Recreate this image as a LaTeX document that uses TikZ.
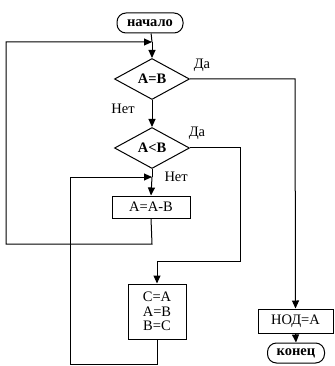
\documentclass[tikz,border=0pt]{standalone}
\usepackage{fontspec}
\setmainfont{Liberation Serif}
\usetikzlibrary{shapes.geometric,arrows.meta}
\begin{document}
\begin{tikzpicture}[x=1pt,y=-1pt,line width=1pt,
  every node/.style={font=\fontsize{14.5}{15}\selectfont},
  term/.style={draw,rectangle,rounded corners=9pt,minimum width=#1,minimum height=20pt,inner sep=0pt,font=\fontsize{14.5}{15}\selectfont\bfseries},
  dec/.style={draw,diamond,minimum width=75pt,minimum height=41pt,inner sep=0pt,font=\fontsize{14.5}{15}\selectfont\bfseries},
  proc/.style={draw,rectangle,inner sep=0pt},
  lbl/.style={inner sep=0pt},
  arr/.style={-{Triangle[length=8pt,width=7pt]}}]
\useasboundingbox (0,0) rectangle (334,366);
\node[term=66pt] (start) at (150,23) {начало};
\node[dec] (d1) at (152,79) {A=B};
\node[dec] (d2) at (152,148) {A<B};
\node[proc,minimum width=78pt,minimum height=22pt] (b1) at (151,207) {A=A-B};
\node[proc,minimum width=58pt,minimum height=55pt,align=center] (b2) at (157,311.5) {C=A\\[-0.5pt]A=B\\[-0.5pt]B=C};
\node[proc,minimum width=75pt,minimum height=24pt] (b3) at (295.5,321) {НОД=А};
\node[term=57pt] (end) at (296,353) {конец};
\coordinate (j1) at (152,42);
\coordinate (j2) at (152,177);
\coordinate (c1) at (152,244);
\coordinate (c2) at (6,244);
\coordinate (c3) at (6,42);
\coordinate (r1) at (295,79);
\coordinate (r2) at (240,148);
\coordinate (r3) at (240,261);
\coordinate (r4) at (157,261);
\coordinate (e1) at (157,364);
\coordinate (e2) at (70,364);
\coordinate (e3) at (70,177);
\draw (start) -- (j1);
\draw[arr] (j1) -- (d1.north);
\draw[arr] (b1.south) -- (c1) -- (c2) -- (c3) -- (j1);
\draw[arr] (d1.east) -- (r1) -- (b3.north);
\draw[arr] (d1.south) -- (d2.north);
\draw[arr] (d2.east) -- (r2) -- (r3) -- (r4) -- (b2.north);
\draw (d2.south) -- (j2);
\draw[arr] (j2) -- (b1.north);
\draw[arr] (b2.south) -- (e1) -- (e2) -- (e3) -- (j2);
\draw[arr] (b3.south) -- (end.north);
\node[lbl] (l1) at (202,65) {Да};
\node[lbl] (l2) at (123,109) {Нет};
\node[lbl] (l3) at (197,133) {Да};
\node[lbl,anchor=west] (l4) at (164,177) {Нет};
\end{tikzpicture}
\end{document}
